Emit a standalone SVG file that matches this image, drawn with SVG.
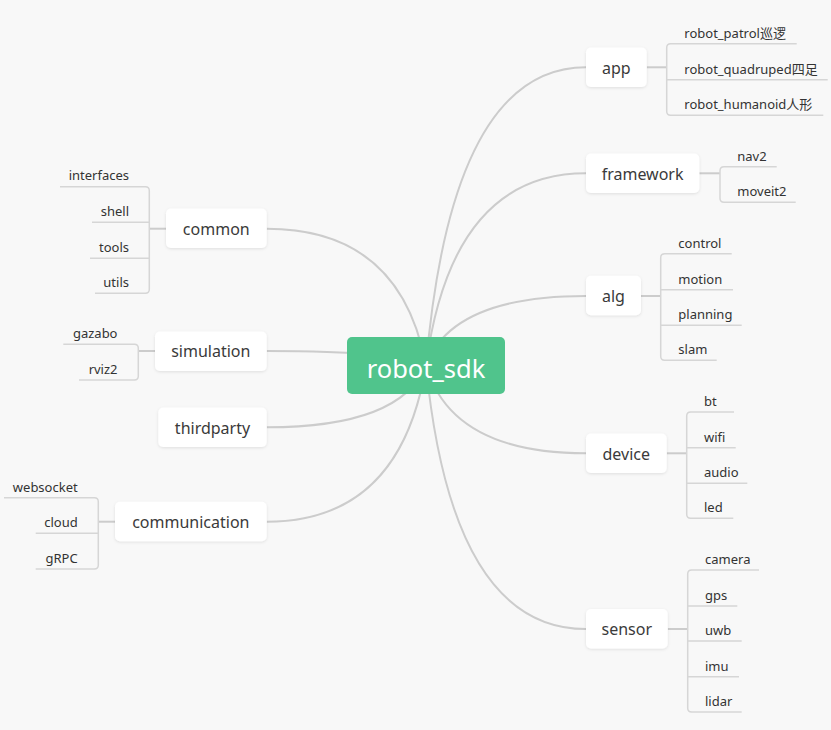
<svg xmlns="http://www.w3.org/2000/svg" width="831" height="730" viewBox="0 0 831 730">
<defs>
<filter id="sh" x="-20%" y="-30%" width="140%" height="170%">
<feDropShadow dx="0" dy="1" stdDeviation="1.5" flood-color="#000" flood-opacity="0.10"/>
</filter>
<style>
.curve{fill:none;stroke:#cccccc;stroke-width:2}
.conn{fill:none;stroke:#cccccc;stroke-width:2}
.leafl{fill:none;stroke:#d6d6d6;stroke-width:1.5}
.box{fill:#ffffff;filter:url(#sh)}
.nt{font-family:"Noto Sans","Noto Sans CJK SC",sans-serif;font-size:16px;fill:#3a3a3a;text-anchor:middle}
.lt{font-family:"Noto Sans","Noto Sans CJK SC",sans-serif;font-size:13px;fill:#333333}
.ll{text-anchor:end}
.rt{font-family:"Noto Sans","Noto Sans CJK SC",sans-serif;font-size:25.5px;fill:#ffffff;text-anchor:middle}
</style>
</defs>
<rect x="0" y="0" width="831" height="730" fill="#f8f8f8"/>

<g id="connectors">
<path class="curve" d="M426,365.5 Q451.6,67.3 586,67.3"/>
<path class="curve" d="M426,365.5 Q451.6,173.3 586,173.3"/>
<path class="curve" d="M426,365.5 Q451.6,296 586,296"/>
<path class="curve" d="M426,365.5 Q451.6,453.3 586,453.3"/>
<path class="curve" d="M426,365.5 Q451.6,629 586,629"/>
<path class="curve" d="M426,365.5 Q400.5,228.7 266.7,228.7"/>
<path class="curve" d="M426,365.5 Q400.5,351 266.7,351"/>
<path class="curve" d="M426,365.5 Q400.5,427.3 266.7,427.3"/>
<path class="curve" d="M426,365.5 Q400.5,521.7 266.7,521.7"/>

<path class="conn" d="M646.7,67.3 H666.7"/>
<path class="conn" d="M699.3,173.3 H720"/>
<path class="conn" d="M641,296 H660.7"/>
<path class="conn" d="M666.7,453.3 H686.7"/>
<path class="conn" d="M667.7,629 H687.7"/>
<path class="conn" d="M166,228.7 H149.3"/>
<path class="conn" d="M155,351 H138.3"/>
<path class="conn" d="M115,521.7 H98.3"/>

<!-- app leaves -->
<path class="leafl" d="M796.7,43.7 H670.7 Q666.7,43.7 666.7,47.7 V111.3 Q666.7,115.3 670.7,115.3 H823.3"/>
<path class="leafl" d="M666.7,79.7 H827.7"/>
<!-- framework leaves -->
<path class="leafl" d="M776.7,166.7 H724 Q720,166.7 720,170.7 V198.3 Q720,202.3 724,202.3 H795.7"/>
<!-- alg leaves -->
<path class="leafl" d="M731.7,253.7 H664.7 Q660.7,253.7 660.7,257.7 V356.3 Q660.7,360.3 664.7,360.3 H716.7"/>
<path class="leafl" d="M660.7,289.7 H733"/>
<path class="leafl" d="M660.7,325.3 H741.7"/>
<!-- device leaves -->
<path class="leafl" d="M734,412 H690.7 Q686.7,412 686.7,416 V514.3 Q686.7,518.3 690.7,518.3 H733.3"/>
<path class="leafl" d="M686.7,447.7 H735.7"/>
<path class="leafl" d="M686.7,483.3 H747.3"/>
<!-- sensor leaves -->
<path class="leafl" d="M759,570 H691.7 Q687.7,570 687.7,574 V708 Q687.7,712 691.7,712 H741.7"/>
<path class="leafl" d="M687.7,606 H737.3"/>
<path class="leafl" d="M687.7,641 H741.7"/>
<path class="leafl" d="M687.7,676.7 H739"/>
<!-- common leaves -->
<path class="leafl" d="M60,186.7 H145.3 Q149.3,186.7 149.3,190.7 V289.3 Q149.3,293.3 145.3,293.3 H95"/>
<path class="leafl" d="M149.3,222.3 H92"/>
<path class="leafl" d="M149.3,258.3 H90"/>
<!-- simulation leaves -->
<path class="leafl" d="M63.3,344.3 H134.3 Q138.3,344.3 138.3,348.3 V376 Q138.3,380 134.3,380 H79"/>
<!-- communication leaves -->
<path class="leafl" d="M4,497.7 H94.3 Q98.3,497.7 98.3,501.7 V565 Q98.3,569 94.3,569 H35.7"/>
<path class="leafl" d="M98.3,533.3 H35.7"/>
</g>

<g id="root">
<rect x="347" y="337" width="158" height="57" rx="5" fill="#50c48c"/>
<text class="rt" x="426" y="377.5">robot_sdk</text>
</g>

<g id="app">
<rect class="box" x="586" y="47.5" width="60.7" height="39.5" rx="5"/>
<text class="nt" x="616.3" y="73.6">app</text>
</g>
<g id="app-leaves">
<text class="lt" x="684.3" y="37.5">robot_patrol巡逻</text>
<text class="lt" x="684.3" y="73.5">robot_quadruped四足</text>
<text class="lt" x="684.3" y="109.1">robot_humanoid人形</text>
</g>

<g id="framework">
<rect class="box" x="586" y="153.5" width="113.3" height="39.5" rx="5"/>
<text class="nt" x="642.6" y="179.6">framework</text>
</g>
<g id="framework-leaves">
<text class="lt" x="737.3" y="160.5">nav2</text>
<text class="lt" x="737.3" y="196.1">moveit2</text>
</g>

<g id="alg">
<rect class="box" x="586" y="275.8" width="55" height="39.5" rx="5"/>
<text class="nt" x="613.5" y="302.1">alg</text>
</g>
<g id="alg-leaves">
<text class="lt" x="678.3" y="247.5">control</text>
<text class="lt" x="678.3" y="283.5">motion</text>
<text class="lt" x="678.3" y="319.1">planning</text>
<text class="lt" x="678.3" y="354.1">slam</text>
</g>

<g id="device">
<rect class="box" x="586" y="433.5" width="80.7" height="39.5" rx="5"/>
<text class="nt" x="626.3" y="459.6">device</text>
</g>
<g id="device-leaves">
<text class="lt" x="704" y="405.8">bt</text>
<text class="lt" x="704" y="441.5">wifi</text>
<text class="lt" x="704" y="477.1">audio</text>
<text class="lt" x="704" y="512.1">led</text>
</g>

<g id="sensor">
<rect class="box" x="586" y="609" width="81.7" height="39.5" rx="5"/>
<text class="nt" x="626.8" y="635.1">sensor</text>
</g>
<g id="sensor-leaves">
<text class="lt" x="705" y="563.8">camera</text>
<text class="lt" x="705" y="599.8">gps</text>
<text class="lt" x="705" y="634.8">uwb</text>
<text class="lt" x="705" y="670.5">imu</text>
<text class="lt" x="705" y="705.8">lidar</text>
</g>

<g id="common">
<rect class="box" x="166" y="208.5" width="100.7" height="39.5" rx="5"/>
<text class="nt" x="216.3" y="234.8">common</text>
</g>
<g id="common-leaves">
<text class="lt ll" x="129" y="180.3">interfaces</text>
<text class="lt ll" x="129" y="216.1">shell</text>
<text class="lt ll" x="129" y="252.1">tools</text>
<text class="lt ll" x="129" y="287.1">utils</text>
</g>

<g id="simulation">
<rect class="box" x="155" y="331.5" width="111.7" height="39.5" rx="5"/>
<text class="nt" x="210.8" y="357.3">simulation</text>
</g>
<g id="simulation-leaves">
<text class="lt ll" x="117.5" y="338.1">gazabo</text>
<text class="lt ll" x="117.5" y="373.8">rviz2</text>
</g>

<g id="thirdparty">
<rect class="box" x="158.3" y="407.5" width="108.4" height="39.5" rx="5"/>
<text class="nt" x="212.5" y="433.6">thirdparty</text>
</g>

<g id="communication">
<rect class="box" x="115" y="501.7" width="151.7" height="39.5" rx="5"/>
<text class="nt" x="190.8" y="528">communication</text>
</g>
<g id="communication-leaves">
<text class="lt ll" x="77.7" y="491.5">websocket</text>
<text class="lt ll" x="77.7" y="527.1">cloud</text>
<text class="lt ll" x="77.7" y="562.8">gRPC</text>
</g>
</svg>
